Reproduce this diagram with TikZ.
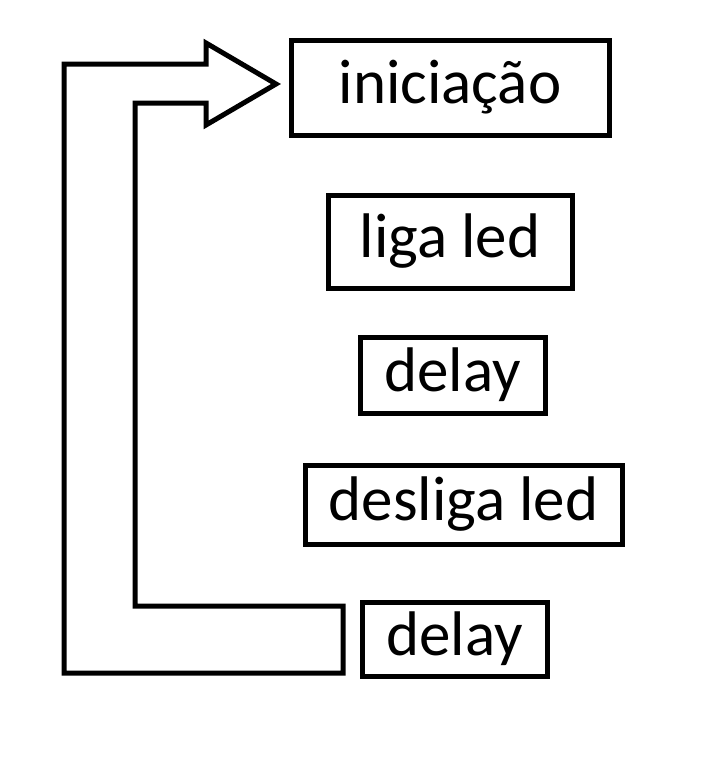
\documentclass[tikz,border=0pt]{standalone}
\usepackage{fontspec}
\setmainfont{Carlito}
\usetikzlibrary{positioning}

\begin{document}
\begin{tikzpicture}[x=1pt,y=-1pt,
  stepbox/.style={draw,line width=5pt,inner sep=0pt,
    font=\fontsize{63}{70}\selectfont,text height=44.7pt,text depth=12.6pt}]
\useasboundingbox (0,0) rectangle (722,758);
\node[stepbox,minimum width=318,minimum height=95] (init) at (450,87.5) {iniciação};
\node[stepbox,minimum width=244,minimum height=93] (ligaled) at (450,241.5) {liga led};
\node[stepbox,minimum width=185,minimum height=76] (delayA) at (452.5,375) {delay};
\node[stepbox,minimum width=317,minimum height=79] (desligaled) at (463.5,504.5) {desliga led};
\node[stepbox,minimum width=185,minimum height=74] (delayB) at (454.5,639) {delay};
% loop back arrow
\draw[line width=5pt,line join=miter]
  (343,606) -- (343,673) -- (64,673) -- (64,64) -- (206,64) -- (206,43)
  -- (276,84) -- (206,125) -- (206,103) -- (135,103) -- (135,606) -- cycle;
\end{tikzpicture}
\end{document}
